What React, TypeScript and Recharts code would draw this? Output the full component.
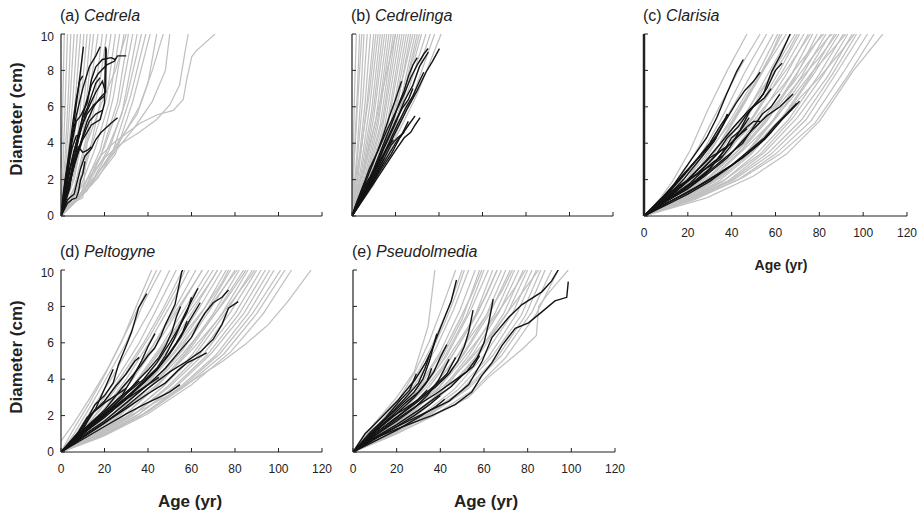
import { LineChart, Line, XAxis, YAxis } from 'recharts';

// axis ticks
const ageTicks = [0, 20, 40, 60, 80, 100, 120];
const diameterTicks = [0, 2, 4, 6, 8, 10];

const panelLetters = ['(a)', '(b)', '(c)', '(d)', '(e)'];
const speciesNames = ['Cedrela', 'Cedrelinga', 'Clarisia', 'Peltogyne', 'Pseudolmedia'];

// each line: age, diameter, age, diameter, ...
const cedrelaGrey = [
  [0.2, 2.6, 0.8, 6, 1.5, 10],
  [0, 0, 1, 3, 2, 6.5, 3, 10],
  [0, 0, 2, 3.5, 3.5, 7, 4.5, 10],
  [0, 0, 2, 2.5, 4, 6, 6, 10],
  [0, 0, 3, 3, 5.5, 6.5, 7.5, 10],
  [0, 0, 3, 2.2, 6, 5.5, 9, 10],
  [0, 0, 4, 2.5, 8, 6, 10.5, 10],
  [0, 0, 4, 2, 8, 4.8, 12, 10],
  [0, 0, 5, 2.2, 10, 5.5, 13.5, 10],
  [0, 0, 5, 1.8, 10, 4.5, 15, 10],
  [0, 0, 6, 2, 11, 5, 14, 7.5, 17, 10],
  [0, 0, 6, 1.5, 12, 4.5, 16, 7, 19, 10],
  [0, 0, 7, 1.8, 13, 4.6, 18, 7.5, 21, 10],
  [0, 0, 7, 1.4, 14, 4, 19, 6.8, 23, 10],
  [0, 0, 8, 1.5, 15, 4.2, 21, 6.5, 25, 10],
  [0, 0, 9, 1.6, 16, 3.8, 22, 6.2, 27, 10],
  [0, 0, 9, 1.2, 18, 3.6, 24, 6.5, 29, 10],
  [0, 0, 10, 1.3, 18, 3.2, 26, 6.3, 31, 10],
  [0, 0, 10, 1.2, 20, 3.8, 27, 6.2, 33, 10],
  [0, 0, 11, 1.5, 20, 3.3, 28, 5.6, 35, 10],
  [0, 0, 12, 1.4, 22, 3.6, 30, 6.4, 37, 10],
  [0, 0, 13, 1.6, 24, 3.6, 32, 6.6, 39, 10],
  [0, 0, 14, 1.7, 25, 3.4, 33, 6.3, 41, 10],
  [0, 0, 15, 2.0, 26, 4.0, 35, 5.6, 40, 7.3, 44, 10],
  [0, 0, 17, 2.1, 28, 4.3, 36, 6.0, 42, 8.0, 47, 10],
  [0, 0, 13, 1.8, 24, 3.4, 34, 4.9, 42, 6.3, 48, 8, 50, 10],
  [0, 0, 5, 0.7, 10, 1.0, 11, 2.5, 12, 4, 18, 6, 25, 8, 30, 10],
  [0, 0, 5, 0.9, 12, 2.0, 20, 3.2, 28, 4.0, 36, 4.6, 44, 5.3, 50, 6.1, 54.5, 7.2, 57, 9.0, 58.5, 10],
  [0, 0, 2.6, 0.5, 8.7, 1.1, 10.3, 1.6, 13.3, 2.35, 17.9, 3.26, 24, 4.0, 30.2, 4.55, 36.3, 5.1, 44, 5.55, 51.6, 5.8, 56.2, 6.4, 57.8, 7.5, 60.1, 8.75, 62.4, 9.1, 70.8, 10],
];

const cedrelaBlack = [
  [0, 0, 2, 1.5, 4, 3.5, 6, 5.2, 8, 7, 10.3, 9.3],
  [0, 0, 3, 1.2, 6, 2.8, 10, 4.2, 14, 5, 18, 5.3, 20, 6.2, 20.3, 8, 20.5, 9.3],
  [0, 0, 2, 1.4, 5, 3, 8, 4.5, 11, 6, 14, 7.2, 17, 7.8, 21, 8.3, 24.5, 8.5, 26, 8.8, 30, 8.8],
  [0, 0, 3, 0.9, 6, 1.2, 9, 2.6, 11, 3.3, 14, 3.7, 16, 4.2, 18.5, 4.6, 23, 5.1, 26, 5.4],
  [0, 0, 2, 2, 4, 3.5, 7, 5.5, 10, 7, 13, 8.2, 16, 8.8, 18, 9.3],
  [0, 0, 3, 2, 6, 3.6, 9, 4.8, 12, 5.6, 15, 6.1, 18, 6.4, 20, 6.6],
  [0, 0, 2, 1.1, 5, 2.6, 8, 4.2, 11, 5.5, 14, 6.3, 16, 6.8, 19, 7.4, 20, 7.0],
  [0, 0, 4, 1.8, 8, 3.6, 12, 5.2, 15, 6, 18, 6.5, 20.5, 6.8, 20.8, 9.2],
  [0, 0, 1.5, 1, 3.5, 2.6, 5, 4, 7, 5.2, 9, 5.5, 12, 6.2, 14, 7.5, 16, 8.2, 19, 8.6, 23, 8.7, 25, 8.6],
  [0, 0, 3, 0.7, 5, 0.9, 7, 1.0, 8, 1.3, 9, 2.0, 10, 2.3, 11, 3.0],
  [0, 0, 2, 1.2, 4, 2.6, 6, 3.2, 8, 3.8, 10, 3.5, 12, 3.6, 14, 3.8],
  [0, 0, 2, 0.8, 4, 1.5, 5, 2.4, 7, 3.3, 9, 4.0, 11, 4.6, 13, 5.2, 16, 5.6, 19, 5.8],
  [0, 0, 1, 1.2, 2.5, 2.5, 4, 3.8, 5.5, 5.2, 7, 6.4, 8.5, 7.4, 10, 7.7],
  [0, 0, 2, 1.0, 4, 1.9, 6, 3.1, 8, 4.3, 10, 5.4, 12, 5.9, 14, 6.6, 16, 7.3, 18, 7.6],
  [0, 0, 1, 0.8, 2, 1.8, 3, 2.6, 5, 3.7, 7, 4.4, 9, 4.5],
];

const cedrelingaGrey = [
  [0, 0, 0.5, 3, 1.2, 7, 2, 10],
  [0, 0, 1, 3, 2.5, 7, 3.5, 10],
  [0, 1.5, 1.5, 4, 3, 7, 4.5, 10],
  [0, 0, 2, 3, 4, 6.5, 5.5, 10],
  [0, 0, 2, 2.5, 5, 6.5, 7, 10],
  [0, 0, 3, 2.8, 6, 6.2, 8.5, 10],
  [0, 0, 3, 2.4, 7, 6.3, 10, 10],
  [0, 1.2, 4, 3.5, 8, 6.8, 11, 10],
  [0, 0, 4, 2.6, 8, 5.9, 12, 10],
  [0, 0, 4, 2.2, 9, 5.8, 13, 10],
  [0, 0, 5, 2.5, 10, 6, 14, 10],
  [0, 0, 5, 2.2, 10, 5.4, 15, 10],
  [0, 0, 5, 2.0, 11, 5.3, 16, 10],
  [0, 0, 6, 2.2, 12, 5.4, 17, 10],
  [0, 0, 6, 1.9, 12, 5.0, 18, 10],
  [0, 0, 6, 1.8, 13, 5.0, 19, 10],
  [0, 0, 7, 2.0, 14, 5.2, 20, 10],
  [0, 0, 7, 1.8, 14, 4.8, 21, 10],
  [0, 0, 7, 1.6, 15, 4.9, 22, 10],
  [0, 0, 8, 1.8, 16, 4.9, 23, 10],
  [0, 0, 8, 1.6, 16, 4.6, 24, 10],
  [0, 0, 8, 1.5, 17, 4.5, 25, 10],
  [0, 0, 9, 1.7, 18, 4.8, 26, 10],
  [0, 0, 9, 1.6, 18, 4.3, 27, 10],
  [0, 0, 10, 2.2, 19, 5.3, 28, 10],
  [0, 0, 10, 1.9, 20, 5.0, 29, 10],
  [0, 0, 10, 1.7, 20, 4.7, 30, 10],
  [0, 0, 11, 2.5, 22, 5.9, 31, 10],
  [0, 0, 12, 2.8, 23, 6.1, 32, 10],
  [0, 0, 12, 2.6, 24, 6.2, 34, 10],
  [0, 0, 12, 2.5, 26, 6.4, 36, 10],
  [0, 0, 13, 2.6, 28, 6.6, 38, 10],
  [0, 0, 14, 2.8, 30, 6.7, 41, 10],
  [0, 0.8, 5, 2.4, 12, 5.8, 20, 10],
];

const cedrelingaBlack = [
  [0, 0, 5, 1.0, 10, 2.2, 15, 3.4, 20, 4.6, 25, 5.8, 30, 6.9, 34, 7.9, 37, 8.5, 40.2, 9.2],
  [0, 0, 5, 1.2, 10, 2.4, 15, 3.8, 20, 5.1, 24, 6.3, 28, 7.2, 31, 8.2, 33, 8.6, 35.1, 9.0],
  [0, 0, 5, 1.3, 10, 2.6, 15, 4.1, 19, 5.3, 22, 6.3, 24, 6.9, 26, 7.7, 28, 8.3, 30, 8.7],
  [0, 0, 5, 1.5, 10, 3.0, 14, 4.3, 17, 5.4, 20, 6.4, 22.8, 7.4],
  [0, 0, 5, 0.9, 10, 1.8, 15, 2.7, 20, 3.6, 24, 4.3, 27, 4.6, 29, 5.0, 31.3, 5.4],
  [0, 0, 5, 1.0, 10, 2.0, 15, 3.0, 20, 4.0, 23, 4.5, 25.9, 5.2],
  [0, 0, 5, 1.1, 10, 2.3, 15, 3.5, 20, 4.8, 25, 6.0, 28, 6.6, 31, 7.4, 33, 7.9],
  [0, 0, 5, 1.2, 10, 2.5, 15, 3.9, 20, 5.2, 23, 5.9, 26, 6.4, 28, 7.0],
  [0, 0, 5, 1.1, 10, 2.1, 15, 3.2, 18, 3.9, 21, 4.3, 24, 4.6],
  [0, 0, 4, 1.0, 8, 1.9, 12, 2.9, 16, 3.7, 19, 4.2],
  [0, 0, 4, 0.9, 8, 1.7, 12, 2.5, 15, 3.2],
  [0, 0, 3, 0.8, 6, 1.5, 9, 2.2, 11, 2.7],
  [0, 0, 3, 0.9, 6, 1.7, 8, 2.1],
  [0, 0, 4, 1.3, 8, 2.6, 12, 3.6, 16, 4.7, 20, 5.7, 24, 6.7, 27, 7.6, 30, 8.3, 33, 8.9, 35, 9.2],
  [0, 0, 6, 1.1, 12, 2.3, 18, 3.4, 22, 4.3, 26, 5.0, 29, 5.5],
  [0, 0, 2, 0.7, 4, 1.3, 6, 1.9],
  [0, 0, 3, 0.6, 6, 1.2, 9, 1.8, 12, 2.4],
];

const clarisiaGrey = [
  [0, 0, 7, 0.9, 13, 1.9, 21, 3.6, 29, 5.8, 38, 8.0, 47, 10],
  [0, 0, 8, 0.8, 16, 2.0, 25, 3.8, 34, 5.9, 44, 8.2, 53, 10],
  [0, 0, 10, 0.9, 18, 2.0, 27, 3.6, 36, 5.5, 46, 7.9, 56, 10],
  [0, 0, 10, 0.8, 20, 2.1, 30, 3.9, 40, 5.9, 50, 8.0, 59, 10],
  [0, 0, 10, 0.7, 20, 1.8, 30, 3.5, 40, 5.4, 51, 7.6, 61, 10],
  [0, 0, 10, 0.8, 20, 1.7, 31, 3.3, 42, 5.5, 53, 7.7, 63, 10],
  [0, 0, 12, 0.9, 22, 1.9, 33, 3.6, 44, 5.8, 55, 8.1, 65, 10],
  [0, 0, 12, 0.8, 24, 2.0, 35, 3.6, 46, 5.5, 57, 7.9, 67, 10],
  [0, 0, 12, 0.7, 24, 1.8, 36, 3.4, 48, 5.6, 59, 8.0, 69, 10],
  [0, 0, 13, 0.8, 25, 1.9, 37, 3.5, 49, 5.3, 61, 7.8, 71, 10],
  [0, 0, 14, 0.9, 27, 2.0, 39, 3.6, 51, 5.6, 63, 7.9, 73, 10],
  [0, 0, 14, 0.8, 28, 1.9, 41, 3.6, 53, 5.5, 65, 7.8, 75, 10],
  [0, 0, 15, 0.9, 29, 2.0, 42, 3.5, 55, 5.4, 67, 7.7, 77, 10],
  [0, 0, 15, 0.8, 30, 1.9, 43, 3.4, 56, 5.2, 69, 7.6, 79, 10],
  [0, 0, 16, 0.9, 31, 2.1, 45, 3.7, 58, 5.7, 70, 7.9, 81, 10],
  [0, 0, 16, 0.8, 32, 1.9, 46, 3.4, 59, 5.3, 72, 7.7, 83, 10],
  [0, 0, 17, 0.9, 33, 2.0, 48, 3.6, 61, 5.5, 74, 7.8, 85, 10],
  [0, 0, 17, 0.8, 34, 1.9, 49, 3.4, 63, 5.4, 76, 7.7, 87, 10],
  [0, 0, 18, 0.9, 35, 2.1, 50, 3.6, 64, 5.5, 78, 7.9, 89, 10],
  [0, 0, 18, 0.8, 36, 1.9, 52, 3.5, 66, 5.3, 80, 7.8, 91, 10],
  [0, 0, 19, 0.9, 37, 2.0, 53, 3.4, 68, 5.4, 82, 7.8, 93, 10],
  [0, 0, 20, 0.9, 38, 1.9, 55, 3.5, 70, 5.4, 84, 7.7, 95, 10],
  [0, 0, 20, 0.8, 40, 2.0, 57, 3.5, 72, 5.3, 86, 7.8, 97, 10],
  [0, 0, 21, 0.9, 41, 2.0, 58, 3.4, 74, 5.3, 88, 7.9, 99, 10],
  [0, 0, 22, 0.9, 43, 2.0, 60, 3.4, 76, 5.2, 91, 7.9, 102, 10],
  [0, 0, 23, 0.9, 45, 2.1, 62, 3.4, 78, 5.1, 93, 7.7, 105, 10],
  [0, 0, 28.6, 1.0, 50, 2.2, 65, 3.4, 80, 5.2, 95.6, 8.0, 109, 10],
  [0, 0, 9, 0.9, 19, 1.9, 26, 3.0, 33, 4.1, 40, 5.2, 47, 6.6, 53, 7.8, 58, 8.9, 62, 10],
  [0, 0, 11, 1.0, 21, 2.1, 30, 3.3, 37, 4.3, 45, 5.4, 52, 6.7, 60, 8.0, 66, 9.1, 70, 10],
  [0, 0, 12, 0.9, 23, 2.0, 33, 3.1, 42, 4.4, 50, 5.5, 58, 6.9, 66, 8.2, 72, 9.3, 76, 10],
  [0, 0, 13, 1.0, 25, 2.1, 36, 3.4, 46, 4.6, 55, 6.0, 63, 7.1, 71, 8.4, 79, 9.6, 82, 10],
  [0, 0, 15, 1.0, 28, 2.2, 40, 3.5, 50, 4.8, 59, 6.0, 68, 7.3, 76, 8.6, 84, 9.8, 86, 10],
  [0, 0, 16, 1.0, 30, 2.2, 43, 3.6, 54, 5.0, 63, 6.3, 72, 7.6, 80, 8.7, 88, 10],
  [0, 0, 18, 1.1, 33, 2.3, 46, 3.7, 57, 5.0, 67, 6.4, 76, 7.8, 85, 9.0, 92, 10],
  [0, 0, 19, 1.0, 36, 2.3, 50, 3.8, 62, 5.3, 72, 6.6, 80, 7.6, 89, 8.9, 96, 10],
];

const clarisiaBlack = [
  [0, 0, 7.3, 0.9, 16.4, 1.7, 25.6, 2.4, 34.7, 3.1, 39.3, 3.8, 43.8, 4.7, 48.4, 5.8, 54.5, 6.7, 58.3, 7.95, 62.1, 8.8, 66.7, 10],
  [0, 0, 6, 0.7, 13.4, 1.7, 21, 3.0, 28.6, 4.3, 33.2, 5.4, 37.7, 6.7, 42.3, 7.95, 45.3, 8.6],
  [0, 0, 10, 0.8, 20, 1.6, 30, 2.5, 38, 3.3, 45, 4.0, 50, 4.9, 54, 5.6, 58, 6.0, 62, 6.7],
  [0, 0, 10, 0.7, 20, 1.3, 30, 2.0, 40, 2.8, 48, 3.6, 55, 4.3, 60, 5.0, 65, 5.6, 69.7, 6.2],
  [0, 0, 10, 0.8, 20, 1.5, 30, 2.4, 38, 3.2, 44, 4.0, 50, 4.8, 56, 5.5, 62, 6.0, 68, 6.7],
  [0, 0, 12, 0.8, 24, 1.6, 35, 2.4, 45, 3.2, 52, 3.9, 58, 4.6, 63, 5.3, 67, 5.8, 71, 6.3],
  [0, 0, 8, 0.9, 16, 2.0, 24, 3.1, 30, 4.0, 34, 4.8, 38.4, 5.6],
  [0, 0, 10, 0.9, 20, 2.0, 28, 3.0, 35, 4.0, 41, 4.9, 47, 5.7, 52, 6.3, 56, 7.0, 60, 8.0, 63, 8.4],
  [0, 0, 10, 1.0, 18, 2.0, 26, 3.2, 32, 4.1, 37, 5.2, 42, 6.2, 46, 6.9, 50, 7.4, 53, 7.9],
  [0, 0, 10, 0.9, 20, 1.9, 27, 2.6, 33, 3.4, 38, 4.3, 43, 4.9, 47, 5.6, 50, 6.0, 55, 6.5, 58, 7.0],
  [0, 0, 8, 0.8, 16, 1.6, 24, 2.3, 30, 3.0, 35, 3.6, 40, 4.0, 46, 4.8, 50, 5.2, 53, 5.2],
  [0, 0, 10, 0.8, 20, 1.5, 28, 2.3, 34, 3.2, 38, 3.8, 42, 4.3, 47, 4.8],
  [0, 0, 8, 0.9, 15, 1.9, 22, 2.8, 28, 3.6, 33, 4.3],
  [0, 0, 10, 0.9, 18, 1.7, 25, 2.6, 30, 3.2, 34, 3.5, 38, 3.8],
  [0, 0, 10, 0.6, 20, 1.2, 30, 1.9, 38, 2.6, 45, 3.2, 50, 3.7, 55, 4.2, 58, 4.6],
  [0, 0, 8, 0.7, 16, 1.3, 24, 2.0, 30, 2.6, 36, 3.5, 40, 4.3, 44, 4.7, 48, 5.4],
  [0, 0, 10, 1.1, 18, 2.2, 24, 3.1, 29, 3.8, 33, 4.4, 36, 5.0, 38, 5.6],
  [0, 0, 7, 0.6, 14, 1.2, 21, 1.8, 27, 2.5, 32, 3.0, 36, 3.3],
];

const peltogyneGrey = [
  [0, 0.6, 6, 1.6, 14, 3.1, 22, 4.7, 30, 6.6, 38, 8.5, 44, 10],
  [0, 0, 5, 1.1, 12.6, 2.6, 20, 4.2, 28, 6.1, 35.6, 8.3, 41.7, 10],
  [0, 0, 6, 1.0, 14, 2.6, 22, 4.3, 30, 6.0, 38, 8.2, 46, 10],
  [0, 0, 7, 1.0, 15, 2.5, 24, 4.2, 33, 6.1, 42, 8.0, 50, 10],
  [0, 0, 8, 0.9, 16, 2.3, 26, 4.1, 36, 6.0, 45, 8.1, 53, 10],
  [0, 0, 8, 0.8, 18, 2.4, 28, 4.2, 38, 6.0, 47, 7.9, 56, 10],
  [0, 0, 10, 1.0, 20, 2.4, 30, 4.0, 40, 5.9, 50, 8.0, 59, 10],
  [0, 0, 10, 0.9, 20, 2.2, 31, 3.9, 42, 5.8, 52, 7.8, 62, 10],
  [0, 0, 10, 0.8, 21, 2.2, 33, 4.0, 44, 5.9, 55, 8.0, 65, 10],
  [0, 0, 11, 0.9, 22, 2.1, 34, 3.8, 46, 5.8, 57, 7.9, 68, 10],
  [0, 0, 12, 1.0, 24, 2.3, 36, 4.0, 48, 6.0, 60, 8.1, 70, 10],
  [0, 0, 12, 0.9, 24, 2.1, 37, 3.8, 49, 5.6, 61, 7.8, 72, 10],
  [0, 0, 12, 0.8, 25, 2.0, 38, 3.6, 51, 5.6, 63, 7.8, 74, 10],
  [0, 0, 13, 0.9, 26, 2.1, 39, 3.7, 52, 5.5, 65, 7.7, 76, 10],
  [0, 0, 13, 0.8, 27, 2.0, 40, 3.5, 54, 5.5, 67, 7.8, 78, 10],
  [0, 0, 14, 0.9, 28, 2.1, 42, 3.7, 56, 5.6, 69, 7.9, 80, 10],
  [0, 0, 14, 0.8, 28, 1.9, 43, 3.5, 57, 5.4, 70, 7.6, 82, 10],
  [0, 0, 15, 0.9, 30, 2.1, 45, 3.7, 59, 5.6, 72, 7.8, 84, 10],
  [0, 0, 15, 0.8, 30, 1.9, 46, 3.5, 60, 5.3, 74, 7.6, 86, 10],
  [0, 0, 16, 0.9, 32, 2.1, 47, 3.6, 62, 5.4, 76, 7.7, 88, 10],
  [0, 0, 16, 0.8, 33, 2.0, 49, 3.6, 64, 5.4, 78, 7.7, 90, 10],
  [0, 0, 17, 0.9, 34, 2.1, 50, 3.6, 65, 5.3, 80, 7.6, 92, 10],
  [0, 0, 17, 0.8, 35, 2.0, 52, 3.6, 67, 5.3, 82, 7.6, 94, 10],
  [0, 0, 18, 0.9, 36, 2.1, 53, 3.6, 69, 5.4, 84, 7.6, 96, 10],
  [0, 0, 18, 0.8, 37, 2.0, 55, 3.6, 71, 5.3, 86, 7.6, 98, 10],
  [0, 0, 19, 0.9, 38, 2.1, 56, 3.6, 73, 5.4, 88, 7.6, 101, 10],
  [0, 0, 20, 1.0, 40, 2.2, 58, 3.7, 75, 5.4, 90, 7.6, 103, 10],
  [0, 0, 20, 0.9, 40, 2.1, 60, 3.7, 78, 5.5, 93, 7.6, 106, 10],
  [0, 0, 20, 1.3, 40, 2.5, 55, 3.5, 74, 4.96, 84.6, 5.9, 95.3, 7.0, 104.5, 8.3, 115, 10],
  [0, 0, 9, 1.1, 18, 2.3, 26, 3.6, 34, 5.1, 41, 6.4, 48, 7.9, 54, 9.2, 57, 10],
  [0, 0, 11, 1.2, 21, 2.4, 31, 3.9, 40, 5.4, 48, 6.9, 56, 8.3, 63, 9.6, 65, 10],
  [0, 0, 12, 1.1, 24, 2.4, 35, 3.9, 45, 5.4, 54, 6.9, 62, 8.2, 69, 9.4, 72, 10],
  [0, 0, 13, 1.1, 26, 2.3, 38, 3.7, 48, 5.1, 58, 6.7, 66, 7.9, 74, 9.3, 77, 10],
  [0, 0, 14, 1.2, 28, 2.5, 40, 3.8, 52, 5.4, 62, 6.9, 71, 8.4, 79, 9.7, 81, 10],
  [0, 0, 15, 1.1, 30, 2.4, 44, 3.9, 56, 5.4, 67, 7.0, 76, 8.4, 84, 9.8, 85, 10],
  [0, 0, 16, 1.2, 32, 2.5, 47, 4.0, 60, 5.6, 71, 7.1, 80, 8.5, 88, 9.8, 89, 10],
];

const peltogyneBlack = [
  [0, 0, 10, 1.2, 20, 2.3, 27.9, 3.5, 33, 4.2, 37, 4.8, 40, 5.3, 43, 5.7, 46, 6.4, 48, 7.0, 50, 7.5, 52.4, 8.1, 54, 9.0, 55.5, 9.9, 56, 10],
  [0, 0, 8, 1.0, 12, 1.8, 15.6, 2.6, 20, 3.1, 24, 3.8, 26.4, 4.8, 29.5, 5.7, 32.5, 6.6, 35.6, 7.9, 39.4, 8.7],
  [0, 0, 5, 0.6, 10, 1.2, 13, 1.9, 16, 2.4, 19, 3.2, 22, 4.0, 24, 4.55],
  [0, 0, 10, 1.1, 20, 2.1, 30, 3.2, 38, 4.0, 44, 4.9, 50, 6.0, 54, 6.8, 57, 7.6, 60, 8.3, 63, 9.0],
  [0, 0, 10, 1.0, 20, 2.0, 30, 3.0, 38, 3.9, 44, 4.6, 48, 5.3, 52, 6.2, 55, 7.0, 58, 7.7, 60, 8.5],
  [0, 0, 10, 0.9, 20, 1.7, 30, 2.7, 40, 3.7, 48, 4.6, 55, 5.6, 60, 6.3, 63, 7.0, 66, 7.6, 70, 8.2, 74, 8.5, 77, 8.9],
  [0, 0, 10, 0.8, 20, 1.6, 30, 2.5, 40, 3.5, 50, 4.4, 58, 5.0, 64, 5.5, 70, 6.2, 74, 7.0, 77, 7.9, 81.5, 8.26],
  [0, 0, 10, 0.8, 20, 1.6, 30, 2.4, 40, 3.2, 48, 3.8, 54, 4.5, 58, 4.9, 63, 5.2, 67, 5.45],
  [0, 0, 10, 0.7, 20, 1.4, 30, 2.1, 38, 2.6, 45, 3.0, 50, 3.3, 54.7, 3.7],
  [0, 0, 10, 1.1, 20, 2.2, 28, 3.1, 33, 4.1, 37, 5.0, 40, 5.8, 43.2, 6.5],
  [0, 0, 10, 1.0, 20, 1.9, 30, 2.9, 38, 3.8, 44, 4.5, 49, 5.3, 53, 6.0, 56, 6.6, 58, 7.2],
  [0, 0, 10, 1.0, 20, 2.0, 30, 3.0, 38, 3.8, 44, 4.5, 50, 5.4, 55, 6.3, 59, 7.2, 62, 7.8, 64, 8.2],
  [0, 0, 8, 0.9, 14, 1.6, 20, 2.2, 26, 2.9, 32, 3.5, 36, 3.9],
  [0, 0, 8, 1.1, 12, 1.9, 16, 2.3, 20, 2.7, 25, 3.1, 30, 3.5],
  [0, 0, 6, 0.7, 12, 1.3, 18, 1.9, 24, 2.4, 30, 2.9, 35, 3.3, 40, 3.7, 45, 4.1],
  [0, 0, 10, 1.0, 20, 2.0, 30, 3.2, 35, 3.9, 40, 4.5, 45, 5.2, 48, 5.8, 51, 6.6, 53, 7.4, 55, 8.0],
  [0, 0, 10, 1.3, 15, 2.2, 20, 2.8, 25, 3.6, 30, 4.3, 34, 5.0, 36, 5.2],
];

const pseudolmediaGrey = [
  [0, 0, 10, 1.6, 20, 3.0, 28, 4.4, 34.4, 6.9, 37.5, 10],
  [0, 0, 8, 1.2, 15, 2.2, 21, 2.9, 28, 4.3, 35, 6.1, 41, 8.0, 47, 10],
  [0, 0, 10, 1.3, 20, 2.7, 28, 4.0, 36, 5.8, 44, 8.0, 50, 10],
  [0, 0, 10, 1.1, 20, 2.3, 30, 4.0, 38, 5.7, 46, 7.8, 53, 10],
  [0, 0, 10, 1.0, 20, 2.1, 30, 3.6, 40, 5.5, 49, 7.8, 56, 10],
  [0, 0, 10, 1.0, 20, 2.0, 30, 3.4, 40, 5.0, 50, 7.3, 58, 10],
  [0, 0, 10, 0.9, 20, 1.9, 30, 3.2, 41, 5.0, 52, 7.5, 60, 10],
  [0, 0, 10, 1.0, 21, 2.0, 32, 3.5, 43, 5.3, 54, 7.8, 62, 10],
  [0, 0, 11, 1.0, 22, 2.0, 33, 3.3, 44, 5.0, 55, 7.2, 64, 10],
  [0, 0, 11, 0.9, 23, 2.0, 35, 3.6, 46, 5.4, 57, 7.6, 66, 10],
  [0, 0, 12, 1.0, 24, 2.1, 36, 3.5, 48, 5.3, 59, 7.6, 68, 10],
  [0, 0, 12, 0.9, 25, 2.0, 37, 3.4, 49, 5.1, 61, 7.5, 70, 10],
  [0, 0, 13, 1.0, 26, 2.0, 39, 3.5, 51, 5.4, 63, 7.7, 72, 10],
  [0, 0, 13, 0.9, 27, 2.0, 40, 3.3, 53, 5.3, 65, 7.6, 74, 10],
  [0, 0, 14, 1.0, 28, 2.0, 42, 3.5, 55, 5.4, 67, 7.7, 76, 10],
  [0, 0, 14, 0.9, 29, 2.0, 43, 3.4, 56, 5.2, 69, 7.6, 78, 10],
  [0, 0, 15, 1.0, 30, 2.1, 45, 3.6, 58, 5.4, 71, 7.7, 80, 10],
  [0, 0, 15, 0.9, 31, 2.0, 46, 3.4, 60, 5.3, 73, 7.6, 82, 10],
  [0, 0, 16, 0.9, 32, 2.0, 48, 3.4, 62, 5.2, 75, 7.6, 84, 10],
  [0, 0, 16, 0.9, 33, 2.0, 49, 3.3, 64, 5.3, 77, 7.5, 86, 10],
  [0, 0, 17, 0.9, 34, 2.0, 51, 3.4, 66, 5.2, 79, 7.5, 88, 10],
  [0, 0, 18, 1.0, 36, 2.1, 53, 3.5, 68, 5.3, 82, 7.7, 91, 10],
  [0, 0, 18, 0.9, 37, 2.0, 55, 3.4, 70, 5.2, 84, 7.6, 94, 10],
  [0, 0, 20, 1.0, 40, 2.2, 52.8, 3.0, 62, 4.1, 71, 5.0, 78, 5.7, 84, 6.4, 85, 8.0, 90, 8.8, 98.6, 10],
  [0, 0, 10, 1.2, 18, 2.3, 25, 3.3, 31, 4.4, 37, 5.8, 42, 7.1, 47, 8.6, 51, 10],
  [0, 0, 11, 1.1, 21, 2.3, 29, 3.3, 36, 4.6, 43, 5.9, 49, 7.3, 55, 8.8, 59, 10],
  [0, 0, 12, 1.2, 23, 2.3, 33, 3.5, 41, 4.7, 48, 6.0, 55, 7.3, 61, 8.6, 66, 10],
  [0, 0, 13, 1.1, 25, 2.2, 36, 3.5, 45, 4.8, 53, 6.2, 61, 7.5, 68, 8.8, 73, 10],
  [0, 0, 14, 1.1, 27, 2.2, 39, 3.5, 49, 4.9, 58, 6.3, 66, 7.6, 74, 9.0, 79, 10],
  [0, 0, 15, 1.2, 29, 2.4, 42, 3.7, 53, 5.0, 63, 6.4, 71, 7.7, 79, 9.0, 85, 10],
];

const pseudolmediaBlack = [
  [0, 0, 5.5, 1.0, 13, 1.9, 20.6, 2.84, 28.3, 3.95, 33, 4.85, 36, 5.6, 39, 6.5, 42, 7.4, 45, 8.3, 47.4, 9.45],
  [0, 0, 13.5, 1.0, 28.7, 1.9, 44, 2.8, 53, 3.7, 59.2, 5.0, 63.7, 6.3, 71.3, 7.4, 77.4, 8.1, 86.5, 8.8, 91, 9.4, 94, 10],
  [0, 0, 5.5, 0.55, 20.8, 1.3, 36, 2.0, 46.8, 2.6, 54.4, 3.3, 59, 4.2, 63.6, 4.9, 68.2, 5.85, 74.3, 6.8, 80.4, 7.1, 86.5, 7.7, 92.5, 8.3, 97.9, 8.5, 98.6, 9.36],
  [0, 0, 10, 0.9, 20, 1.8, 30, 2.6, 38, 3.2, 45, 3.8, 52, 4.4, 57, 5.2, 60, 6.0, 62, 7.0, 63, 7.6, 64.2, 8.4],
  [0, 0, 10, 1.0, 20, 1.9, 30, 2.8, 38, 3.6, 44, 4.3, 48, 5.0, 51, 5.8, 53, 6.6, 55, 7.8],
  [0, 0, 10, 1.1, 20, 2.1, 28, 3.0, 33, 3.7, 37, 4.4, 40, 5.2, 43, 5.9],
  [0, 0, 8, 1.0, 15, 1.8, 22, 2.6, 28, 3.3, 32, 4.0, 35, 5.0, 38.4, 6.5],
  [0, 0, 10, 1.0, 20, 1.9, 30, 2.9, 38, 3.7, 43, 4.3, 47, 5.2],
  [0, 0, 8, 1.1, 15, 1.9, 22, 2.9, 26, 3.4, 29, 4.3],
  [0, 0, 10, 0.8, 20, 1.5, 30, 2.3, 38, 3.0, 45, 3.6, 50, 4.2, 55, 4.7, 58, 5.3],
  [0, 0, 10, 1.1, 18, 2.0, 24, 2.7, 30, 3.3, 34, 3.9, 36, 4.6],
  [0, 0, 10, 0.7, 20, 1.4, 28, 2.0, 35, 2.6, 40, 3.1],
  [0, 0, 8, 0.9, 16, 1.8, 24, 2.4, 30, 2.9, 34, 3.4],
  [0, 0, 10, 1.2, 18, 2.2, 25, 3.1, 30, 3.8, 33, 4.6, 35, 5.3],
  [0, 0, 10, 0.6, 20, 1.2, 30, 1.9, 38, 2.5, 42, 2.9],
  [0, 0, 10, 0.9, 20, 1.7, 28, 2.4, 34, 3.1, 39, 3.9, 42, 4.6, 44, 5.1],
];

const toPoints = (line: number[]) => {
  const pts: { x: number; y: number }[] = [];
  for (let i = 0; i < line.length; i += 2) pts.push({ x: line[i], y: line[i + 1] });
  return pts;
};

const FONT = '"Liberation Sans", Arial, Helvetica, sans-serif';
const INK = '#222';
const PLOT_H = 182;

interface PanelProps {
  index: number;
  left: number;
  top: number;
  width: number;
  grey: number[][];
  black: number[][];
  yLabels?: boolean;
  xLabels?: boolean;
  thickY?: boolean;
}

function Panel({ index, left, top, width, grey, black, yLabels, xLabels, thickY }: PanelProps) {
  const blank = () => '';
  return (
    <>
      <div
        style={{
          position: 'absolute',
          left: left - 1,
          top: top - 27,
          fontSize: 16,
          color: INK,
          whiteSpace: 'nowrap',
        }}
      >
        {panelLetters[index]} <span style={{ fontStyle: 'italic' }}>{speciesNames[index]}</span>
      </div>
      <div style={{ position: 'absolute', left: left - 60, top: top - 5 }}>
        <LineChart
          width={60 + width + 20}
          height={5 + PLOT_H + 40}
          margin={{ top: 5, right: 20, bottom: 0, left: 0 }}
        >
          <XAxis
            type="number"
            dataKey="x"
            domain={[0, 120]}
            ticks={ageTicks}
            allowDataOverflow
            height={40}
            tickSize={-4}
            tickMargin={16}
            tickFormatter={xLabels ? undefined : blank}
            tick={{ fontSize: 12, fill: INK, fontFamily: FONT }}
            axisLine={{ stroke: INK, strokeWidth: 1.2 }}
            tickLine={{ stroke: INK }}
          />
          <YAxis
            type="number"
            domain={[0, 10]}
            ticks={diameterTicks}
            allowDataOverflow
            width={60}
            tickSize={-4}
            tickMargin={11}
            tickFormatter={yLabels ? undefined : blank}
            tick={{ fontSize: 12, fill: INK, fontFamily: FONT }}
            axisLine={{ stroke: INK, strokeWidth: thickY ? 2.5 : 1.2 }}
            tickLine={{ stroke: INK }}
          />
          {grey.map((ln, i) => (
            <Line
              key={'g' + i}
              data={toPoints(ln)}
              dataKey="y"
              type="linear"
              stroke="#c0c0c0"
              strokeWidth={1.25}
              dot={false}
              activeDot={false}
              isAnimationActive={false}
            />
          ))}
          {black.map((ln, i) => (
            <Line
              key={'b' + i}
              data={toPoints(ln)}
              dataKey="y"
              type="linear"
              stroke="#141414"
              strokeWidth={1.4}
              dot={false}
              activeDot={false}
              isAnimationActive={false}
            />
          ))}
        </LineChart>
      </div>
    </>
  );
}

const rotated = (cx: number, cy: number, text: string) => (
  <div
    style={{
      position: 'absolute',
      left: cx,
      top: cy,
      transform: 'translate(-50%, -50%) rotate(-90deg)',
      fontSize: 17,
      fontWeight: 'bold',
      color: INK,
      whiteSpace: 'nowrap',
    }}
  >
    {text}
  </div>
);

const centered = (cx: number, cy: number, text: string, size: number) => (
  <div
    style={{
      position: 'absolute',
      left: cx,
      top: cy,
      transform: 'translate(-50%, -50%)',
      fontSize: size,
      fontWeight: 'bold',
      color: INK,
      whiteSpace: 'nowrap',
    }}
  >
    {text}
  </div>
);

export default function App() {
  return (
    <div
      style={{
        position: 'absolute',
        left: 0,
        top: 0,
        width: 923,
        height: 514,
        background: '#fff',
        fontFamily: FONT,
        overflow: 'hidden',
      }}
    >
      <Panel index={0} left={61} top={34} width={261} grey={cedrelaGrey} black={cedrelaBlack} yLabels />
      <Panel index={1} left={352} top={34} width={261} grey={cedrelingaGrey} black={cedrelingaBlack} />
      <Panel index={2} left={644} top={34} width={263} grey={clarisiaGrey} black={clarisiaBlack} xLabels thickY />
      <Panel index={3} left={61} top={270} width={261} grey={peltogyneGrey} black={peltogyneBlack} yLabels xLabels />
      <Panel index={4} left={353} top={270} width={262} grey={pseudolmediaGrey} black={pseudolmediaBlack} xLabels />
      {rotated(17, 119, 'Diameter (cm)')}
      {rotated(17, 357, 'Diameter (cm)')}
      {centered(781, 265, 'Age (yr)', 14)}
      {centered(190, 502, 'Age (yr)', 17)}
      {centered(486, 502, 'Age (yr)', 17)}
    </div>
  );
}
